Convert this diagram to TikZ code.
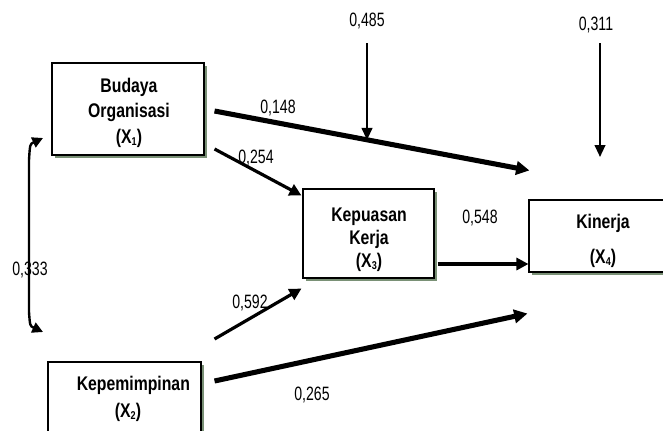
\documentclass[tikz,border=0pt]{standalone}
\usepackage{fontspec}
\setmainfont{Liberation Sans}
\newfontfamily\boxfont{Liberation Sans}[FakeStretch=0.8]
\newfontfamily\labfont{Liberation Sans}[FakeStretch=0.73]
\usetikzlibrary{arrows.meta,calc,shadows}
\definecolor{shadowc}{RGB}{122,145,118}
\newcommand{\sbs}[1]{\raisebox{-0.25ex}{\fontsize{8.5}{8.5}\selectfont #1}}
\begin{document}
\begin{tikzpicture}[x=0.75pt,y=-0.75pt,
  box/.style={draw=black,line width=0.8pt,fill=white,
    drop shadow={shadow xshift=2.6pt,shadow yshift=-2.6pt,fill=shadowc,opacity=1}},
  btxt/.style={align=center,anchor=base,inner sep=0pt,
    font=\boxfont\bfseries\fontsize{14.8}{#1}\selectfont},
  btxt/.default=19,
  lab/.style={font=\labfont\fontsize{14.5}{16}\selectfont,anchor=base,inner sep=0pt},
  thick arr/.style={line width=3.8pt,-{Triangle[length=10pt,width=10pt]}},
  mid arr/.style={line width=2.4pt,-{Triangle[length=9pt,width=9pt]}},
  thin arr/.style={line width=1.5pt,-{Triangle[length=9pt,width=8pt]}},
  dbl arr/.style={line width=1.8pt,{Triangle[length=8pt,width=8pt]}-{Triangle[length=8pt,width=8pt]}},
]
\useasboundingbox (0,0) rectangle (663,430);
\fill[white] (0,0) rectangle (663,430);

% boxes
\node[box,minimum width=152*0.75pt,minimum height=92*0.75pt] (b1) at (128,109) {};
\node[box,minimum width=131*0.75pt,minimum height=89*0.75pt] (b3) at (368.5,233.5) {};
\node[box,minimum width=146*0.75pt,minimum height=72*0.75pt] (b4) at (602,236) {};
\node[box,minimum width=153*0.75pt,minimum height=78*0.75pt] (b2) at (124.5,401) {};

% box texts (anchor base = baseline of last line)
\node[btxt=19] (t1txt) at (129,143) {Budaya\\Organisasi\\(X\sbs{1})};
\node[btxt=17] (t3txt) at (369,267) {Kepuasan\\Kerja\\(X\sbs{3})};
\node[btxt=26] (t4txt) at (603,263) {Kinerja\\(X\sbs{4})};
\node[btxt=20] (t2txt) at (128,417) {\hspace*{8pt}Kepemimpinan\\(X\sbs{2})};

% free ends
\coordinate (e485a) at (367,43);
\coordinate (e311a) at (600,43);
\coordinate (e311b) at (600,157);
\coordinate (dt1) at (43,138);
\coordinate (dt2) at (43,332);

% connectors
\draw[thick arr] ($(b1.east)+(10,2)$) -- ($(b4.north west)+(1,-29)$) coordinate[pos=0.487] (m148);
\draw[mid arr] ($(b1.east)+(10,40)$) -- ($(b3.north west)+(-1,7)$);
\draw[mid arr] ($(b2.east)+(13,-62)$) -- ($(b3.south west)+(-1,10)$);
\draw[thick arr] ($(b2.east)+(13,-20)$) -- ($(b4.south west)+(-1,41)$);
\draw[mid arr] ($(b3.east)+(3,30.5)$) -- ($(b4.west)+(0,28)$);
\draw[thin arr] (e485a) -- (e485a |- m148);
\draw[thin arr] (e311a) -- (e311b);
\draw[dbl arr] (dt1) .. controls (30,144) .. (29,160) -- (29,312) .. controls (30,326) .. (dt2);

% labels
\node[lab] (l148) at (278,113) {0,148};
\node[lab] (l254) at (256,163) {0,254};
\node[lab] (l485) at (367,26) {0,485};
\node[lab] (l311) at (596,30) {0,311};
\node[lab] (l548) at (480,223) {0,548};
\node[lab] (l592) at (250,308) {0,592};
\node[lab] (l265) at (312,400) {0,265};
\node[lab] (l333) at (30,275) {0,333};
\end{tikzpicture}
\end{document}
